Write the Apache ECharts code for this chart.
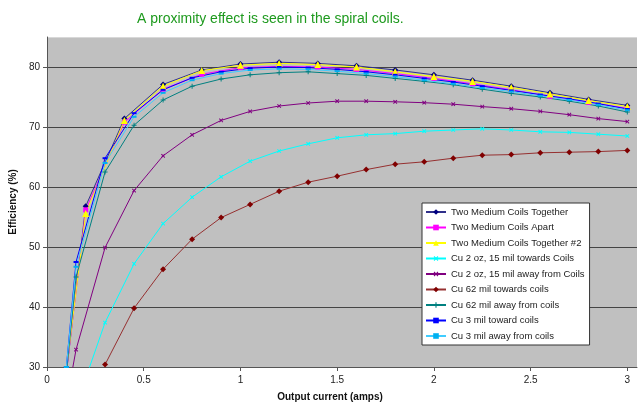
<!DOCTYPE html>
<html>
<head>
<meta charset="utf-8">
<script src="https://cdn.jsdelivr.net/npm/echarts@6/dist/echarts.min.js"></script>
<style>
  html, body { margin: 0; padding: 0; background: #fff; }
  #chart { width: 639px; height: 407px; }
</style>
</head>
<body>
<div id="chart"></div>
<script>
// x positions (amps)
var xTwoCoils = [0.1, 0.2, 0.4, 0.6, 0.8, 1.0, 1.2, 1.4, 1.6, 1.8, 2.0, 2.2, 2.4, 2.6, 2.8, 3.0];
var xCu = [0.1, 0.15, 0.3, 0.45, 0.6, 0.75, 0.9, 1.05, 1.2, 1.35, 1.5, 1.65, 1.8, 1.95, 2.1, 2.25, 2.4, 2.55, 2.7, 2.85, 3.0];
var xCu62Towards = [0.3, 0.45, 0.6, 0.75, 0.9, 1.05, 1.2, 1.35, 1.5, 1.65, 1.8, 1.95, 2.1, 2.25, 2.4, 2.55, 2.7, 2.85, 3.0];

// efficiency (%)
var twoTogether   = [29, 56.8, 71.4, 77.1, 79.5, 80.5, 80.8, 80.6, 80.2, 79.5, 78.7, 77.8, 76.8, 75.7, 74.6, 73.6];
var twoApart      = [29, 56.2, 70.8, 76.3, 78.8, 79.9, 80.1, 80.0, 79.6, 78.9, 78.1, 77.2, 76.2, 75.1, 74.1, 73.1];
var twoTogether2  = [29.5, 55.6, 71.1, 76.8, 79.4, 80.3, 80.6, 80.4, 80.0, 79.2, 78.4, 77.6, 76.6, 75.5, 74.4, 73.4];
var oz2Towards    = [null, 23.5, 37.4, 47.2, 53.9, 58.3, 61.7, 64.3, 66.0, 67.2, 68.2, 68.7, 68.9, 69.3, 69.5, 69.7, 69.5, 69.2, 69.1, 68.8, 68.5];
var oz2Away       = [24, 32.9, 49.9, 59.4, 65.2, 68.7, 71.1, 72.6, 73.5, 74.0, 74.3, 74.3, 74.2, 74.05, 73.8, 73.4, 73.05, 72.6, 72.05, 71.4, 70.9];
var cu62Towards   = [30.4, 39.8, 46.3, 51.3, 54.9, 57.1, 59.3, 60.8, 61.8, 62.9, 63.8, 64.2, 64.8, 65.3, 65.4, 65.7, 65.8, 65.9, 66.1];
var cu62Away      = [29, 45.0, 62.5, 70.3, 74.5, 76.8, 78.0, 78.7, 79.05, 79.2, 78.9, 78.6, 78.1, 77.6, 77.05, 76.3, 75.6, 75.0, 74.3, 73.5, 72.5];
var cu3Toward     = [30, 47.5, 64.8, 72.3, 76.2, 78.2, 79.2, 79.8, 80.0, 79.9, 79.6, 79.2, 78.7, 78.1, 77.5, 76.8, 76.1, 75.4, 74.7, 73.9, 73.0];
var cu3Away       = [30, 46.7, 64.0, 71.7, 75.7, 77.8, 78.9, 79.5, 79.7, 79.6, 79.3, 78.9, 78.4, 77.8, 77.2, 76.5, 75.9, 75.2, 74.5, 73.7, 72.8];

var yTicks = [30, 40, 50, 60, 70, 80];

function pairs(xs, ys) {
    var out = [];
    for (var i = 0; i < xs.length; i++) {
        if (ys[i] != null) out.push([xs[i], ys[i]]);
    }
    return out;
}

var plusPath = 'path://M4,0H6V4H10V6H6V10H4V6H0V4H4Z';

function line(name, xs, ys, color, symbol, size, lineColor) {
    return {
        name: name,
        type: 'line',
        data: pairs(xs, ys),
        symbol: symbol,
        symbolSize: size,
        showAllSymbol: true,
        clip: true,
        animation: false,
        lineStyle: { color: lineColor || color, width: 1 },
        itemStyle: { color: color, borderColor: color, borderWidth: 0 }
    };
}

var chart = echarts.init(document.getElementById('chart'));

var series = [
    line('Two Medium Coils Together', xTwoCoils, twoTogether, '#000080', 'diamond', 6, '#30308a'),
    line('Two Medium Coils Apart', xTwoCoils, twoApart, '#ff00ff', 'rect', 5),
    line('Two Medium Coils Together #2', xTwoCoils, twoTogether2, '#ffff00', 'triangle', 7),
    line('Cu 2 oz, 15 mil towards Coils', xCu, oz2Towards, '#00ffff', plusPath, 5),
    line('Cu 2 oz, 15 mil away from Coils', xCu, oz2Away, '#800080', plusPath, 5),
    line('Cu 62 mil towards coils', xCu62Towards, cu62Towards, '#800000', 'diamond', 6, '#963030'),
    line('Cu 62 mil away from coils', xCu, cu62Away, '#008080', plusPath, 5),
    line('Cu 3 mil toward coils', xCu, cu3Toward, '#0000ff', 'rect', [5, 2]),
    line('Cu 3 mil away from coils', xCu, cu3Away, '#00b0f0', 'rect', [5, 2], '#40ccff')
];
series[3].symbolRotate = 45;
series[4].symbolRotate = 45;

var option = {
    backgroundColor: '#ffffff',
    textStyle: { fontFamily: 'Liberation Sans, Arial, sans-serif' },
    title: {
        text: 'A proximity effect is seen in the spiral coils.',
        left: 132,
        top: 7,
        textStyle: { color: '#1e9a1e', fontSize: 14, fontWeight: 'normal', fontFamily: 'Liberation Sans' }
    },
    grid: {
        left: 43, right: 2, top: 37, bottom: 38,
        show: true,
        backgroundColor: '#c0c0c0',
        borderWidth: 0
    },
    legend: {
        orient: 'vertical',
        left: 422,
        top: 203,
        itemWidth: 20,
        itemHeight: 7,
        itemGap: 5.5,
        padding: [4, 5, 4, 3],
        backgroundColor: '#ffffff',
        borderColor: '#333333',
        borderWidth: 1,
        textStyle: { fontSize: 9.5, lineHeight: 10, color: '#222', fontFamily: 'Liberation Sans' }
    },
    xAxis: {
        type: 'value',
        min: 0,
        max: 3.05,
        interval: 0.5,
        name: 'Output current (amps)',
        nameLocation: 'middle',
        nameGap: 25,
        nameTextStyle: { fontSize: 10, fontWeight: 'bold', color: '#111', padding: [0, 24, 0, 0] },
        axisLine: { show: true, lineStyle: { color: '#555' } },
        axisTick: { show: true, inside: false, length: 4, lineStyle: { color: '#555' } },
        axisLabel: { fontSize: 10, color: '#222', margin: 8, showMaxLabel: false },
        splitLine: { show: false }
    },
    yAxis: {
        type: 'value',
        min: 30,
        max: 85,
        interval: 10,
        name: 'Efficiency (%)',
        nameLocation: 'middle',
        nameGap: 24,
        nameTextStyle: { fontSize: 10, fontWeight: 'bold', color: '#111' },
        axisLine: { show: true, lineStyle: { color: '#555' } },
        axisTick: { show: true, inside: false, length: 4, lineStyle: { color: '#555' } },
        axisLabel: {
            fontSize: 10, color: '#222', margin: 7, showMaxLabel: false,
            formatter: function (v) { return yTicks.indexOf(v) >= 0 ? String(v) : ''; }
        },
        splitLine: {
            show: true,
            lineStyle: { color: ['#444', '#444', '#444', '#444', '#444', '#444', '#d8d8d8'], width: 1 }
        }
    },
    series: series
};

chart.setOption(option);
</script>
</body>
</html>
